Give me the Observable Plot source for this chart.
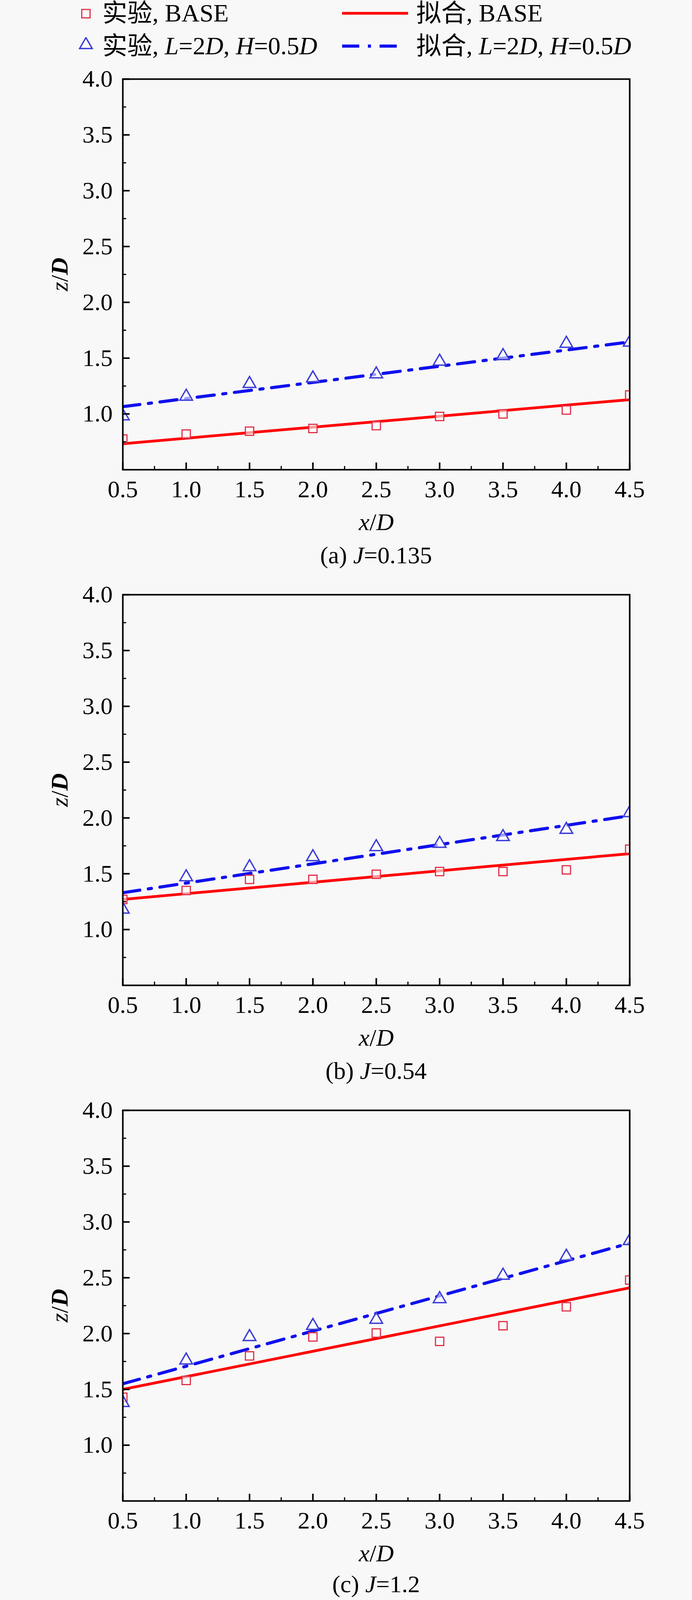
<!DOCTYPE html>
<html><head><meta charset="utf-8">
<script src="https://cdn.jsdelivr.net/npm/d3@7"></script>
<script src="https://cdn.jsdelivr.net/npm/@observablehq/plot@0.6"></script>
<style>
html,body{margin:0;padding:0;overflow:hidden;}
body{background:#f8f8f8;font-family:"Liberation Serif","Times New Roman","Noto Sans CJK SC",serif;color:#000;width:1772px;}
#legend{position:relative;width:1772px;height:149px;}
.lg-text{position:absolute;font-size:64px;line-height:1;white-space:nowrap;transform:translateY(-50%);}
.lg-sw{position:absolute;}
.caption{margin-left:314px;width:1298px;text-align:center;height:95px;line-height:95px;font-size:62px;white-space:nowrap;overflow:visible;}
</style></head><body>
<div id="legend"></div>
<div id="root"></div>
<script>
// ---------- data ----------
const xValues = [0.5, 1.0, 1.5, 2.0, 2.5, 3.0, 3.5, 4.0, 4.5];
const fitX = [0.5, 4.5];

// (a) J=0.135
const expBaseA = [0.775, 0.82, 0.845, 0.87, 0.895, 0.977, 1.0, 1.035, 1.17];
const expLHA   = [0.98, 1.156, 1.27, 1.32, 1.356, 1.47, 1.52, 1.63, 1.64];
const fitBaseA = [0.733, 1.128];
const fitLHA   = [1.065, 1.645];

// (b) J=0.54
const expBaseB = [1.27, 1.35, 1.45, 1.45, 1.495, 1.52, 1.52, 1.535, 1.72];
const expLHB   = [1.18, 1.47, 1.56, 1.65, 1.74, 1.77, 1.83, 1.895, 2.045];
const fitBaseB = [1.27, 1.68];
const fitLHB   = [1.33, 2.02];

// (c) J=1.2
const expBaseC = [1.43, 1.58, 1.80, 1.97, 2.005, 1.93, 2.07, 2.24, 2.48];
const expLHC   = [1.38, 1.76, 1.97, 2.07, 2.125, 2.31, 2.52, 2.69, 2.83];
const fitBaseC = [1.50, 2.41];
const fitLHC   = [1.55, 2.81];

const panelLetters = ["a", "b", "c"];
const jValues = ["0.135", "0.54", "1.2"];

const xTicks = [0.5, 1.0, 1.5, 2.0, 2.5, 3.0, 3.5, 4.0, 4.5];
const xMinorTicks = [0.75, 1.25, 1.75, 2.25, 2.75, 3.25, 3.75, 4.25];
const yTicks = [1.0, 1.5, 2.0, 2.5, 3.0, 3.5, 4.0];
const yMinorTicks = [0.75, 1.25, 1.75, 2.25, 2.75, 3.25, 3.75];

const legendLabels = [
  "实验, BASE",
  "拟合, BASE",
  "实验, <i>L</i>=2<i>D</i>, <i>H</i>=0.5<i>D</i>",
  "拟合, <i>L</i>=2<i>D</i>, <i>H</i>=0.5<i>D</i>"
];

// ---------- styles ----------
const RED_LINE = "#ff0000";
const BLUE_LINE = "#1010ee";
const SQ_COLOR = "#e0304a";
const TRI_COLOR = "#3c3cd8";
const DASH = "44,22,8,22";
const FONT = '"Liberation Serif","Times New Roman","Noto Sans CJK SC",serif';
const R = 12;

// ---------- legend ----------
const legend = document.getElementById("legend");
function addSymbolSwatch(cx, cy, symbolType, color) {
  const s = d3.create("svg").attr("class", "lg-sw").attr("width", 40).attr("height", 40)
    .style("left", (cx - 20) + "px").style("top", (cy - 20) + "px");
  s.append("path").attr("transform", "translate(20,20)")
    .attr("d", d3.symbol(symbolType, Math.PI * R * R)())
    .attr("fill", "white").attr("fill-opacity", 0.6)
    .attr("stroke", color).attr("stroke-width", symbolType === d3.symbolSquare ? 3 : 3.5);
  legend.appendChild(s.node());
}
function addLineSwatch(x0, x1, cy, color, width, dash) {
  const s = d3.create("svg").attr("class", "lg-sw").attr("width", x1 - x0).attr("height", 20)
    .style("left", x0 + "px").style("top", (cy - 10) + "px");
  const l = s.append("line").attr("x1", 0).attr("x2", x1 - x0).attr("y1", 10).attr("y2", 10)
    .attr("stroke", color).attr("stroke-width", width);
  if (dash) l.attr("stroke-dasharray", dash);
  legend.appendChild(s.node());
}
function addText(x, cy, html) {
  const d = document.createElement("div");
  d.className = "lg-text";
  d.style.left = x + "px";
  d.style.top = cy + "px";
  d.innerHTML = html;
  legend.appendChild(d);
}
addSymbolSwatch(220, 35, d3.symbolSquare, SQ_COLOR);
addText(262, 34, legendLabels[0]);
addLineSwatch(876, 1045, 34, RED_LINE, 7, null);
addText(1066, 34, legendLabels[1]);
addSymbolSwatch(220, 115, d3.symbolTriangle, TRI_COLOR);
addText(262, 118, legendLabels[2]);
addLineSwatch(876, 1018, 118, BLUE_LINE, 8, DASH);
addText(1066, 118, legendLabels[3]);

// ---------- panels ----------
const fmt = d3.format(".1f");
function panel(base, lh, fitBase, fitLH) {
  const pts = xValues.map((x, i) => ({x, base: base[i], lh: lh[i]}));
  const fit = fitX.map((x, i) => ({x, base: fitBase[i], lh: fitLH[i]}));
  const svg = Plot.plot({
    width: 1772, height: 1225,
    marginLeft: 314, marginRight: 160, marginTop: 53, marginBottom: 172,
    x: {domain: [0.5, 4.5]},
    y: {domain: [0.5, 4.0]},
    style: {fontFamily: FONT, fontSize: "62px", background: "transparent", color: "#000", overflow: "visible"},
    marks: [
      Plot.line(fit, {x: "x", y: "base", stroke: RED_LINE, strokeWidth: 7, clip: true}),
      Plot.line(fit, {x: "x", y: "lh", stroke: BLUE_LINE, strokeWidth: 8, strokeDasharray: DASH, clip: true}),
      Plot.dot(pts, {x: "x", y: "base", symbol: "square", r: R, stroke: SQ_COLOR, strokeWidth: 3, fill: "white", fillOpacity: 0.6, clip: true}),
      Plot.dot(pts, {x: "x", y: "lh", symbol: "triangle", r: R, stroke: TRI_COLOR, strokeWidth: 3.5, fill: "white", fillOpacity: 0.6, clip: true}),
      Plot.axisX(xTicks, {tickSize: 0, tickPadding: 26, tickFormat: fmt, label: null}),
      Plot.axisX(xTicks, {tickSize: -18, fill: "none", strokeWidth: 4, label: null}),
      Plot.axisX(xMinorTicks, {tickSize: -9, fill: "none", strokeWidth: 3, label: null}),
      Plot.axisY(yTicks, {tickSize: 0, tickPadding: 26, tickFormat: fmt, label: null}),
      Plot.axisY(yTicks, {tickSize: -18, fill: "none", strokeWidth: 4, label: null}),
      Plot.axisY(yMinorTicks, {tickSize: -9, fill: "none", strokeWidth: 3, label: null}),
      Plot.frame({stroke: "black", strokeWidth: 4}),
      Plot.text(["z/D"], {frameAnchor: "left", dx: -161, rotate: -90, textAnchor: "middle", lineAnchor: "middle"}),
      Plot.text(["x/D"], {frameAnchor: "bottom", dy: 135, textAnchor: "middle", lineAnchor: "middle"})
    ]
  });
  d3.select(svg).selectAll("text").each(function() {
    const t = this.textContent;
    if (t === "z/D") this.innerHTML = '<tspan font-style="italic">z</tspan>/<tspan font-style="italic" font-weight="bold">D</tspan>';
    else if (t === "x/D") this.innerHTML = '<tspan font-style="italic">x</tspan>/<tspan font-style="italic">D</tspan>';
  });
  return svg;
}

const root = document.getElementById("root");
const panels = [
  [expBaseA, expLHA, fitBaseA, fitLHA],
  [expBaseB, expLHB, fitBaseB, fitLHB],
  [expBaseC, expLHC, fitBaseC, fitLHC]
];
panels.forEach((p, i) => {
  const svg = panel(...p);
  svg.style.display = "block";
  svg.style.maxWidth = "none";
  root.appendChild(svg);
  const cap = document.createElement("div");
  cap.className = "caption";
  if (i === panels.length - 1) { cap.style.height = "82px"; cap.style.lineHeight = "82px"; }
  cap.innerHTML = `(${panelLetters[i]}) <i>J</i>=${jValues[i]}`;
  root.appendChild(cap);
});
</script>
</body></html>
